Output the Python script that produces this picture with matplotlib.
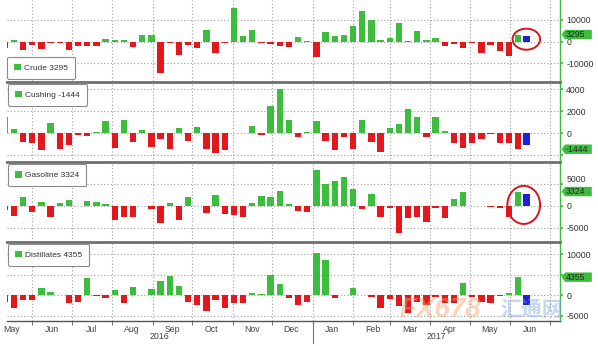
import numpy as np
import pandas as pd
import matplotlib.pyplot as plt
import matplotlib.dates as mdates
import matplotlib.transforms as mtransforms
from matplotlib.patches import Patch, Ellipse, Polygon

plt.rcParams['font.family'] = ['Liberation Sans', 'DejaVu Sans']

# weekly EIA inventory changes (thousand barrels), release dates from 2016-05-11
weeks = pd.date_range('2016-05-11', periods=57, freq='7D')

names = ['Crude', 'Cushing', 'Gasoline', 'Distillates']

crude = [-3000, 800, -4000, -1300, -3200, -600, -500, -4000, -2000, -2000,
         -2000, 1400, 800, 700, -2400, 2900, 2900, -14300, -400, -6000,
         -1600, -2700, 5200, -5200, -550, 15300, 2800, 5400, -800, -900,
         -2000, -2300, 2000, 500, -7000, 4300, 2600, 3100, 7000, 14100,
         10000, 600, 1500, 8800, 200, 5000, 800, 1600, -1800, -900,
         -3100, -500, -5200, -1300, -4300, -6400, 3295]
cushing = [1500, 400, -770, -860, -1540, 920, -1450, -1080, -120, -250,
           120, 1100, -1300, 1170, -830, 300, -1230, -550, -1450, 520,
           -700, 550, -1450, -1790, -1540, 50, 30, 680, -120, 2500,
           4000, 1230, -370, 100, 1080, -680, -1480, -370, -1390, 1170,
           -830, -1700, 460, 860, 2220, 1480, -310, 1450, 250, -920,
           -1320, -860, -550, -30, -860, -860, -1444]
gasoline = [-1000, -2300, 2150, -1460, 920, -2460, 770, 1380, -50, 1230,
            920, 540, -3230, -2600, -2600, 50, -700, -4000, 700, -3230,
            2080, 100, -1700, 2540, -1850, -2080, -2600, 770, 2310, 2150,
            3460, 540, -1080, -1460, 8300, 5000, 5850, 6600, 3900, -770,
            2850, -2460, -540, -6300, -2850, -2600, -3600, -540, -2700, 1540,
            3300, 40, -100, -300, -540, -2600, 3324]
distillates = [-1600, -3250, -1200, -1200, 1600, 650, 100, -1860, -1600, 4050,
               -240, -650, 1200, -2000, 2000, 50, 1540, 3480, 4700, 2190,
               -1780, -2430, -3800, -1200, -3240, -1860, -1860, 400, 300, 5000,
               2600, -650, -2400, -1600, 10300, 8500, -810, 100, 1620, 100,
               -570, -3240, -1050, -2670, -4300, -1780, -2430, -570, -2020, -2020,
               2830, -570, -1620, -2020, -240, 400, 4355]
# extra (blue) bar after the latest week
blue_vals = [2800, -1080, 2770, -2430]

series = [crude, cushing, gasoline, distillates]
ylims = [(-18080, 19180), (-2560, 4710), (-8170, 10120), (-6340, 13050)]
yticks = [[-10000, 0, 10000], [-2000, 0, 2000, 4000], [-5000, 0, 5000],
          [-5000, 0, 5000, 10000]]
# tick labels hidden behind the last-value tag
hidden = [[], [-2000], [], [5000]]
# tick labels nudged up so they clear the tag
raised = [[], [], [5000], []]
circled = [True, False, True, False]

GREEN = '#3dbd3d'
RED = '#e3171c'
BLUE = '#1a22dd'
GRID = '#a0a0a0'

W, H = 598, 346
panel_px = [(0, 81), (81.5, 161.5), (162, 241.5), (241.5, 321)]
left_px, right_px = 7, 560

fig = plt.figure(figsize=(W / 100, H / 100), dpi=100)

x = mdates.date2num(weeks.to_pydatetime())
x_blue = x[-1] + 6.3
xmin = mdates.date2num(pd.Timestamp('2016-05-12 17:00'))
xmax = mdates.date2num(pd.Timestamp('2017-07-09'))

axes = []
for k, (name, vals) in enumerate(zip(names, series)):
    top, bot = panel_px[k]
    ax = fig.add_axes([left_px / W, 1 - bot / H, (right_px - left_px) / W, (bot - top) / H])
    axes.append(ax)
    colors = [GREEN if v >= 0 else RED for v in vals]
    ax.bar(x, vals, width=4.8, color=colors, zorder=2)
    ax.bar([x_blue], [blue_vals[k]], width=5.4, color=BLUE, zorder=2)

    ax.set_xlim(xmin, xmax)
    ax.set_ylim(*ylims[k])
    ax.set_axisbelow(True)

    ax.xaxis.set_major_locator(mdates.MonthLocator())
    ax.xaxis.set_minor_locator(mdates.MonthLocator(bymonthday=16))
    ax.grid(axis='x', which='major', linestyle=(0, (1, 2)), color=GRID, lw=0.8)
    ax.grid(axis='y', linestyle=(0, (1, 2)), color=GRID, lw=0.8)

    ax.yaxis.tick_right()
    ax.set_yticks(yticks[k])
    ax.set_yticklabels(['' if t in hidden[k] else str(t) for t in yticks[k]])
    ax.tick_params(axis='y', colors=GREEN, labelcolor='#333333', length=2.5,
                   width=1.2, pad=2, labelsize=6.3)
    for t, lab in zip(yticks[k], ax.get_yticklabels()):
        if t in raised[k]:
            lab.set_va('bottom')

    for side in ['left', 'bottom', 'top']:
        ax.spines[side].set_visible(False)
    ax.spines['right'].set_color(GREEN)
    ax.spines['right'].set_linewidth(1)
    if k > 0:
        ax.spines['top'].set_visible(True)
        ax.spines['top'].set_color('#707070')
        ax.spines['top'].set_linewidth(2)

    if k < 3:
        ax.tick_params(axis='x', which='both', bottom=False, labelbottom=False)

    # legend box
    last = vals[-1]
    if k == 0:
        loc, anchor = 'lower left', (-0.004, 0.0)
    else:
        loc, anchor = 'upper left', (-0.002, 1.0)
    leg = ax.legend([Patch(facecolor=GREEN, edgecolor='none')], [f'{name} {last}'],
                    loc=loc, bbox_to_anchor=anchor, borderaxespad=0.25,
                    fontsize=6, handlelength=0.8, handleheight=0.8,
                    handletextpad=0.4, borderpad=0.85, fancybox=True,
                    framealpha=1, edgecolor='#8a8a8a')
    leg.get_frame().set_linewidth(0.8)
    for t in leg.get_texts():
        t.set_color('#333333')

    # last-value tag on the right axis
    trans = mtransforms.blended_transform_factory(ax.transAxes, ax.transData)
    tag_trans = fig.dpi_scale_trans + mtransforms.ScaledTranslation(1.0, last, trans)
    tag = Polygon([(0.017, 0), (0.05, 0.047), (0.318, 0.047), (0.318, -0.047), (0.05, -0.047)],
                  closed=True, facecolor=GREEN, edgecolor='none',
                  transform=tag_trans, clip_on=False, zorder=6)
    ax.add_artist(tag)
    ax.annotate(str(last), xy=(1.0, last), xycoords=trans, xytext=(4, 0),
                textcoords='offset points', ha='left', va='center',
                fontsize=6.3, color='#1e2a1e', zorder=7, annotation_clip=False)

    if circled[k]:
        ymid = (max(vals[-1], blue_vals[k]) + 0) / 2
        span = ylims[k][1] - ylims[k][0]
        ell = Ellipse((x_blue - (2 if k == 2 else 0), ymid * (0.7 if k == 0 else 0.15)),
                      width=21 if k == 0 else 25,
                      height=span * (0.26 if k == 0 else 0.48),
                      fill=False, edgecolor='#d9141a', lw=1.4, zorder=5)
        ax.add_patch(ell)

# bottom axis labels
axb = axes[-1]
axb.spines['bottom'].set_visible(True)
axb.spines['bottom'].set_color('#555555')
axb.spines['bottom'].set_linewidth(1)
axb.xaxis.set_major_formatter(plt.NullFormatter())
axb.xaxis.set_minor_formatter(mdates.DateFormatter('%b'))
axb.tick_params(axis='x', which='major', length=3, color='#777777', width=0.8)
axb.tick_params(axis='x', which='minor', length=0, labelsize=6.3,
                labelcolor='#444444', pad=3)

xtrans = mtransforms.blended_transform_factory(axb.transData, axb.transAxes)
jan1 = mdates.date2num(pd.Timestamp('2017-01-01'))
axb.plot([jan1, jan1], [0, -0.28], color='#777777', lw=0.8,
         transform=xtrans, clip_on=False)
axb.text((xmin + jan1) / 2, -0.2, '2016', transform=xtrans, ha='center',
         va='center', fontsize=6.3, color='#444444')
axb.text((jan1 + xmax) / 2, -0.2, '2017', transform=xtrans, ha='center',
         va='center', fontsize=6.3, color='#444444')

# watermark
fig.text(400 / W, 1 - 310 / H, 'FX678', fontsize=20, fontweight='bold',
         fontstyle='italic', color='#f4a36c', alpha=0.45, va='center',
         family=['Liberation Sans', 'DejaVu Sans'])
fig.text(500 / W, 1 - 310 / H, '汇通网', fontsize=15, fontweight='bold',
         color='#7ea7dd', alpha=0.45, va='center',
         family=['Noto Sans CJK SC', 'DejaVu Sans'])

fig.savefig('out.png', dpi=100)
